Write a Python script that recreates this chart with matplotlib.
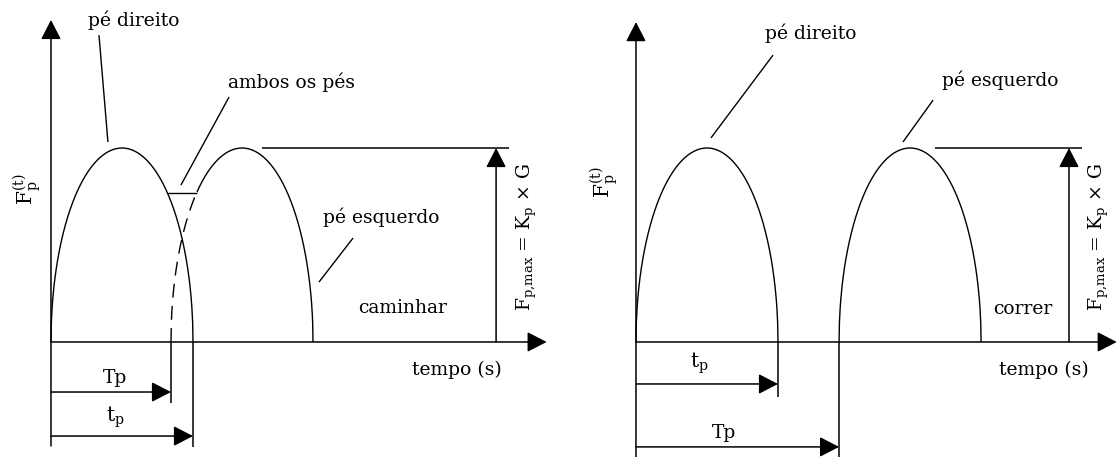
"""
Esquema da força de contato do pé: caminhar (esquerda) x correr (direita).
Pulso semi-elíptico por passo, duração de contato tp, período do passo Tp.
"""
import numpy as np
import matplotlib
matplotlib.use("Agg")
import matplotlib.pyplot as plt

plt.rcParams["font.family"] = "DejaVu Serif"
plt.rcParams["mathtext.fontset"] = "dejavuserif"
plt.rcParams["font.size"] = 13.5

# dados (tempo normalizado pela duração de contato tp, força por Fp,max)
walk_starts = [0.0, 0.845]   # início de cada passo ao caminhar
walk_tp = 1.0                # duração de contato
walk_Tp = 0.845              # período do passo
run_starts = [0.0, 1.43]     # início de cada passo ao correr
run_tp = 1.0
run_Tp = 1.43
f_max = 1.0
both_feet_level = 0.77       # altura onde os dois pés se apoiam juntos

LW = 1.1
HEAD = "-|>,head_length=1.2,head_width=0.62"
FMAX_LABEL = r"$\mathrm{F_{p{,}max}}$ = $\mathrm{K_p}$ × G"
FP_LABEL = r"$\mathrm{F_p^{(t)}}$"


def pulse(start, tp, n=400):
    u = np.linspace(0, 1, n)
    return start + u * tp, f_max * np.sqrt(np.clip(1 - (2 * u - 1) ** 2, 0, None))


def arrow(ax, x0, y0, x1, y1):
    ax.annotate("", xy=(x1, y1), xytext=(x0, y0), annotation_clip=False,
                arrowprops=dict(arrowstyle=HEAD, mutation_scale=10, color="black",
                                lw=LW, shrinkA=0, shrinkB=0))


def line(ax, xs, ys, **kw):
    ax.plot(xs, ys, color="black", lw=kw.pop("lw", 1.0), solid_capstyle="butt", **kw)


fig = plt.figure(figsize=(11.18, 4.57), dpi=100)
ylim = (-0.593, 1.763)

# ---- caminhar ----
ax1 = fig.add_axes([0, 0, 0.5, 1])
ax1.set_xlim(-0.359, 3.577)
ax1.set_ylim(*ylim)
ax1.set_axis_off()

# primeiro passo inteiro, segundo passo com trecho tracejado na sobreposição
t, f = pulse(walk_starts[0], walk_tp)
line(ax1, t, f)
t, f = pulse(walk_starts[1], walk_tp)
u_cross = (1 - np.sqrt(1 - both_feet_level ** 2)) / 2
t_cross = walk_starts[1] + u_cross * walk_tp
dashed = t <= t_cross
line(ax1, t[dashed], f[dashed], linestyle=(0, (10, 6)))
line(ax1, t[~dashed], f[~dashed])
line(ax1, [walk_starts[0] + (1 - u_cross) * walk_tp, t_cross],
     [both_feet_level, both_feet_level])

arrow(ax1, 0, -0.536, 0, 1.66)
arrow(ax1, 0, 0, 3.49, 0)
line(ax1, [1.486, 3.225], [f_max, f_max], lw=LW)
arrow(ax1, 3.134, 0, 3.134, f_max)
ax1.text(3.352, 0.54, FMAX_LABEL, rotation=90, ha="center", va="center")
ax1.text(-0.169, 0.789, FP_LABEL, rotation=90, ha="center", va="center", fontsize=14.5)
ax1.text(2.859, -0.144, "tempo (s)", ha="center", va="center")
ax1.text(2.479, 0.175, "caminhar", ha="center", va="center")

ax1.text(0.585, 1.66, "pé direito", ha="center", va="center")
line(ax1, [0.338, 0.401], [1.582, 1.031])
ax1.text(1.69, 1.34, "ambos os pés", ha="center", va="center")
line(ax1, [1.254, 0.915], [1.263, 0.809])
ax1.text(2.324, 0.644, "pé esquerdo", ha="center", va="center")
line(ax1, [2.127, 1.887], [0.536, 0.309])

# Tp e tp
line(ax1, [walk_Tp, walk_Tp], [0, -0.314], lw=LW)
arrow(ax1, 0, -0.258, walk_Tp, -0.258)
ax1.text(0.45, -0.186, "Tp", ha="center", va="center")
line(ax1, [walk_tp, walk_tp], [0, -0.541], lw=LW)
arrow(ax1, 0, -0.485, walk_tp, -0.485)
ax1.text(0.45, -0.387, r"$\mathrm{t_p}$", ha="center", va="center", fontsize=14.5)

# ---- correr ----
ax2 = fig.add_axes([0.5, 0, 0.5, 1])
ax2.set_xlim(-0.542, 3.394)
ax2.set_ylim(*ylim)
ax2.set_axis_off()

for s in run_starts:
    t, f = pulse(s, run_tp)
    line(ax2, t, f)

arrow(ax2, 0, -0.6, 0, 1.649)
arrow(ax2, 0, 0, 3.385, 0)
line(ax2, [2.106, 3.141], [f_max, f_max], lw=LW)
arrow(ax2, 3.049, 0, 3.049, f_max)
ax2.text(3.26, 0.54, FMAX_LABEL, rotation=90, ha="center", va="center")
ax2.text(-0.225, 0.825, FP_LABEL, rotation=90, ha="center", va="center", fontsize=14.5)
ax2.text(2.873, -0.144, "tempo (s)", ha="center", va="center")
ax2.text(2.725, 0.17, "correr", ha="center", va="center")

ax2.text(1.232, 1.593, "pé direito", ha="center", va="center")
line(ax2, [0.965, 0.528], [1.479, 1.052])
ax2.text(2.563, 1.351, "pé esquerdo", ha="center", va="center")
line(ax2, [2.092, 1.880], [1.247, 1.031])

line(ax2, [run_tp, run_tp], [0, -0.284], lw=LW)
arrow(ax2, 0, -0.2165, run_tp, -0.2165)
ax2.text(0.444, -0.108, r"$\mathrm{t_p}$", ha="center", va="center", fontsize=14.5)
line(ax2, [run_Tp, run_Tp], [0, -0.6], lw=LW)
arrow(ax2, 0, -0.541, run_Tp, -0.541)
ax2.text(0.62, -0.469, "Tp", ha="center", va="center")

fig.savefig("out.png", dpi=100)
